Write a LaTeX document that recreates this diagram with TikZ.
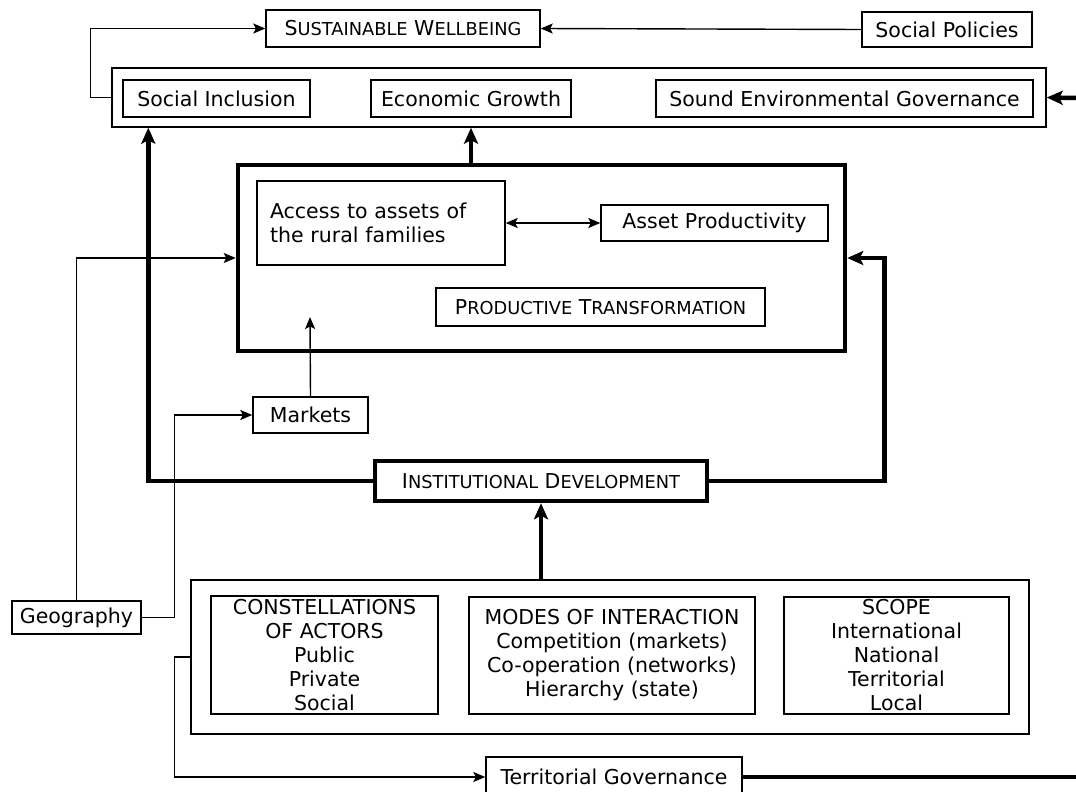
\documentclass[tikz,border=0pt]{standalone}
\usepackage{fontspec}
\setmainfont{DejaVu Sans}
\usetikzlibrary{arrows.meta}
% fake small capitals: full-size initial, reduced capitals for the rest
\newcommand\capsm[2]{#1{\fontsize{17.8}{17.8}\selectfont #2}}

\begin{document}
\begin{tikzpicture}[x=1pt,y=-1pt,
  every node/.style={font=\fontsize{20.5}{24}\selectfont, inner sep=0pt},
  box/.style={draw, line width=1.4pt, fill=white},
  heavybox/.style={draw, line width=4.5pt, fill=white},
  link/.style={line width=1.4pt, -{Stealth[length=12pt,width=10pt,inset=2.5pt]}},
  duallink/.style={line width=1.4pt, {Stealth[length=12pt,width=10pt,inset=2.5pt]}-{Stealth[length=12pt,width=10pt,inset=2.5pt]}},
  heavylink/.style={line width=4.5pt, -{Stealth[length=16pt,width=14pt,inset=3.5pt]}},
  heavyline/.style={line width=4.5pt},
  plainline/.style={line width=1.4pt}
]
\useasboundingbox (0,0) rectangle (1076,792);

% top row
\node[box, minimum width=274pt, minimum height=37pt] (well) at (403,28.5)
  {\capsm{S}{USTAINABLE} \capsm{W}{ELLBEING}};
\node[box, minimum width=170pt, minimum height=35pt] (policy) at (947,29.5) {Social Policies};

% the three pillars
\node[box, minimum width=934pt, minimum height=59pt] (pillars) at (579,97.5) {};
\node[box, minimum width=187pt, minimum height=37pt] (incl) at (216.5,98.5) {Social Inclusion};
\node[box, minimum width=200pt, minimum height=37pt] (growth) at (471,98.5) {Economic Growth};
\node[box, minimum width=377pt, minimum height=37pt] (env) at (844.5,98.5) {Sound Environmental Governance};

% productive transformation block
\node[heavybox, minimum width=607pt, minimum height=186pt] (prod) at (541.5,258) {};
\node[box, minimum width=248pt, minimum height=84pt, text width=222pt, inner xsep=13pt, align=left] (access) at (381,223)
  {Access to assets of\\the rural families};
\node[box, minimum width=227pt, minimum height=36pt] (apr) at (714.5,223) {Asset Productivity};
\node[box, minimum width=329pt, minimum height=38pt] (ptl) at (600.5,307)
  {\capsm{P}{RODUCTIVE} \capsm{T}{RANSFORMATION}};

\node[box, minimum width=115pt, minimum height=36pt] (markets) at (310.5,415) {Markets};

\node[heavybox, minimum width=332pt, minimum height=40pt] (inst) at (541,481)
  {\capsm{I}{NSTITUTIONAL} \capsm{D}{EVELOPMENT}};

% governance block
\node[box, minimum width=838pt, minimum height=154pt] (gov) at (610,657) {};
\node[box, minimum width=227pt, minimum height=118pt, align=center] (actors) at (324.5,655)
  {CONSTELLATIONS\\OF ACTORS\\Public\\Private\\Social};
\node[box, minimum width=286pt, minimum height=117pt, align=center] (modes) at (612,655.5)
  {MODES OF INTERACTION\\Competition (markets)\\Co-operation (networks)\\Hierarchy (state)};
\node[box, minimum width=225pt, minimum height=117pt, align=center] (scope) at (896.5,655.5)
  {SCOPE\\International\\National\\Territorial\\Local};

\node[box, minimum width=129pt, minimum height=33pt] (geo) at (76.5,617.5) {Geography};
\node[box, minimum width=256pt, minimum height=40pt] (terr) at (614,777) {Territorial Governance};

\coordinate (envin) at (1076,98);
\coordinate (terrout) at (1076,777);
\coordinate (mkttip) at (310,317);

% connectors
\draw[link] (policy.west) -- (well.east);
\draw[link] (pillars.west) -- ++(-21,0) |- (well.west);
\draw[heavylink] (envin) -- (pillars.east);
\draw[heavylink] (growth.south |- prod.north) -- (growth.south |- pillars.south);
\draw[duallink] (access.east) -- (apr.west);
\draw[link] (markets.north) -- (mkttip);
\draw[heavylink] (inst.west) -| ([xshift=37pt]pillars.south west);
\draw[heavylink] (inst.east) -| ([xshift=37pt]prod.east) -- (prod.east);
\draw[heavylink] (inst.south |- gov.north) -- (inst.south);
\draw[link] (geo.north) |- (prod.west);
\draw[link] (geo.east) -- ++(33,0) |- (markets.west);
\draw[link] (gov.west) -- ++(-16,0) |- (terr.west);
\draw[heavyline] (terr.east) -- (terrout);
\end{tikzpicture}
\end{document}
